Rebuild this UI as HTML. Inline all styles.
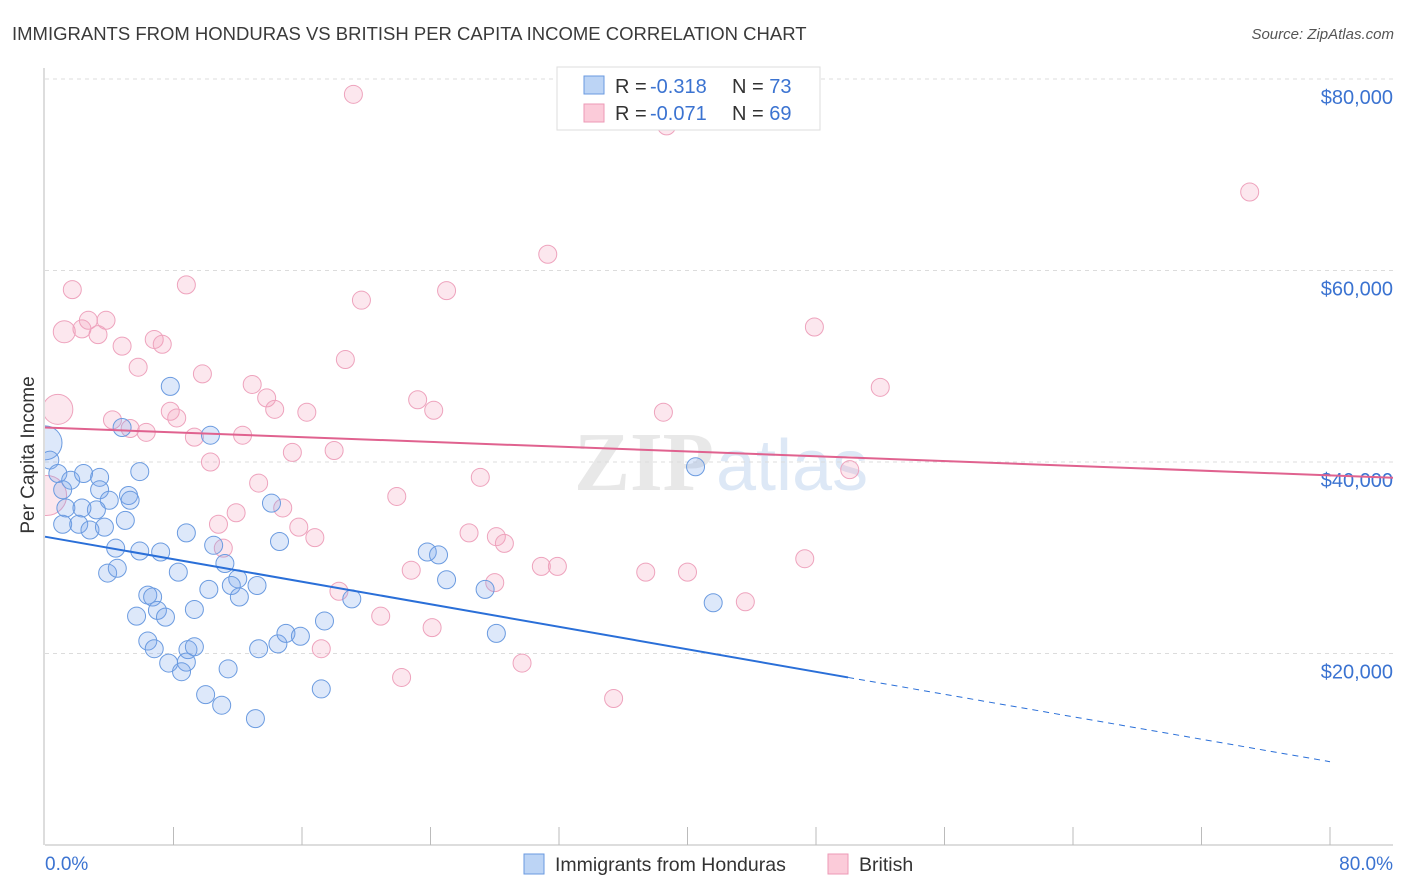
<!DOCTYPE html>
<html><head><meta charset="utf-8"><style>
body{margin:0;background:#fff;font-family:"Liberation Sans",sans-serif;}
svg{display:block}
</style></head><body>
<svg id="chart" width="1406" height="892">
<defs><clipPath id="plotclip"><rect x="45" y="60" width="1360" height="785"/></clipPath></defs>
<text x="12" y="40" font-size="18.5" fill="#3a3a3a">IMMIGRANTS FROM HONDURAS VS BRITISH PER CAPITA INCOME CORRELATION CHART</text>
<text x="1394" y="39" font-size="15" fill="#555" font-style="italic" text-anchor="end">Source: ZipAtlas.com</text>
<text x="714" y="490" font-size="84" fill="#e8e8e8" text-anchor="end" font-weight="bold" font-family="Liberation Serif,serif">ZIP</text>
<text x="716" y="490" font-size="72" fill="#dde8f6">atlas</text>
<g id="grid"></g>
<g id="axes"></g>
<g id="marks" clip-path="url(#plotclip)"></g>
<g id="trends"></g>
<text x="34" y="455" font-size="19" fill="#333" text-anchor="middle" transform="rotate(-90 34 455)">Per Capita Income</text>
<text x="45" y="870" font-size="19" fill="#3b73d1">0.0%</text>
<text x="1393" y="870" font-size="19" fill="#3b73d1" text-anchor="end">80.0%</text>
<g>
<rect x="557" y="67" width="263" height="63" fill="#fff" stroke="#ddd"/>
<rect x="584" y="76" width="20" height="18" fill="#bcd4f5" stroke="#6a9ae0"/>
<rect x="584" y="104" width="20" height="18" fill="#fbcbd9" stroke="#ec9ab6"/>
<text x="615" y="93" font-size="20" fill="#333">R = <tspan x="650" fill="#3b73d1">-0.318</tspan><tspan x="732">N = </tspan><tspan fill="#3b73d1">73</tspan></text>
<text x="615" y="120" font-size="20" fill="#333">R = <tspan x="650" fill="#3b73d1">-0.071</tspan><tspan x="732">N = </tspan><tspan fill="#3b73d1">69</tspan></text>
</g>
<g>
<rect x="524" y="854" width="20" height="20" fill="#bcd4f5" stroke="#6a9ae0"/>
<text x="555" y="871" font-size="19.5" fill="#333">Immigrants from Honduras</text></g>
<g>
<rect x="828" y="854" width="20" height="20" fill="#fbcbd9" stroke="#ec9ab6"/>
<text x="859" y="871" font-size="19.5" fill="#333">British</text></g>
</svg>
<script>
const yTicks=[20,40,60,80];
const yTickLabels=["$20,000","$40,000","$60,000","$80,000"];
const xTicks=[8,16,24,32,40,48,56,64,72,80];
const blueX=[0,0.3,0.8,1.1,1.6,2.4,3.4,4.8,7.8,10.3,5.9,5.2,3.4,4.0,3.2,5.0,1.3,2.3,1.1,2.1,2.8,3.7,5.3,7.2,5.9,4.4,3.9,4.5,6.4,6.7,8.3,8.8,10.5,11.2,12.0,11.6,12.1,13.2,14.1,14.6,10.2,9.3,7.0,5.7,7.5,6.4,6.8,8.9,9.3,8.8,7.7,8.5,11.4,10.0,11.0,13.1,13.3,14.5,15.0,15.9,17.4,17.2,19.1,23.8,24.5,25.0,27.4,28.1,40.5,41.6];
const blueY=[42.0,40.2,38.8,37.1,38.1,38.8,38.4,43.6,47.9,42.8,39.0,36.5,37.1,36.0,35.0,33.9,35.2,35.2,33.5,33.5,32.9,33.2,36.0,30.6,30.7,31.0,28.4,28.9,26.1,25.9,28.5,32.6,31.3,29.4,27.8,27.1,25.9,27.1,35.7,31.7,26.7,24.6,24.5,23.9,23.8,21.3,20.5,20.4,20.7,19.1,19.0,18.1,18.4,15.7,14.6,13.2,20.5,21.0,22.1,21.8,23.4,16.3,25.7,30.6,30.3,27.7,26.7,22.1,39.5,25.3];
const blueSize=[17,9,9,9,9,9,9,9,9,9,9,9,9,9,9,9,9,9,9,9,9,9,9,9,9,9,9,9,9,9,9,9,9,9,9,9,9,9,9,9,9,9,9,9,9,9,9,9,9,9,9,9,9,9,9,9,9,9,9,9,9,9,9,9,9,9,9,9,9,9];
const pinkX=[19.2,38.7,42.6,75.0,31.3,1.7,8.8,19.7,25.0,1.2,2.3,2.7,3.3,3.8,4.8,5.8,6.8,7.3,47.9,18.7,9.8,12.9,13.8,14.3,7.8,8.2,23.2,24.2,16.3,52.0,38.5,0.8,4.2,5.3,6.3,9.3,12.3,10.3,15.4,18.0,27.1,50.1,13.3,21.9,11.9,10.8,14.8,15.8,16.8,26.4,28.1,28.6,11.1,22.8,0.1,30.9,31.9,37.4,40.0,47.3,43.6,18.3,20.9,24.1,17.2,28.0,29.7,22.2,35.4];
const pinkY=[78.4,75.1,76.4,68.2,61.7,58.0,58.5,56.9,57.9,53.6,53.9,54.8,53.3,54.8,52.1,49.9,52.8,52.3,54.1,50.7,49.2,48.1,46.7,45.5,45.3,44.6,46.5,45.4,45.2,47.8,45.2,45.5,44.4,43.5,43.1,42.6,42.8,40.0,41.0,41.2,38.4,39.2,37.8,36.4,34.7,33.5,35.2,33.2,32.1,32.6,32.2,31.5,31.0,28.7,36.5,29.1,29.1,28.5,28.5,29.9,25.4,26.5,23.9,22.7,20.5,27.4,19.0,17.5,15.3];
const pinkSize=[9,9,9,9,9,9,9,9,9,11,9,9,9,9,9,9,9,9,9,9,9,9,9,9,9,9,9,9,9,9,9,15,9,9,9,9,9,9,9,9,9,9,9,9,9,9,9,9,9,9,9,9,9,9,20,9,9,9,9,9,9,9,9,9,9,9,9,9,9];
const blueTrend=[32.2,17.5,8.7];
const pinkTrend=[43.6,38.6];
const NS="http://www.w3.org/2000/svg";
function sx(v){return 45+v/80*1285;}
function sy(v){return 845-v*9.575;}
function mk(tag,attrs,parent){const e=document.createElementNS(NS,tag);for(const k in attrs)e.setAttribute(k,attrs[k]);parent.appendChild(e);return e;}
const grid=document.getElementById('grid'),axes=document.getElementById('axes'),marks=document.getElementById('marks'),trends=document.getElementById('trends');
yTicks.forEach((t,i)=>{
 const l=mk('line',{x1:45,x2:1393,y1:sy(t),y2:sy(t),stroke:'#dcdcdc','stroke-dasharray':'4,4'},grid);
 
 
 const tx=mk('text',{x:1393,y:sy(t)+25,'font-size':20,fill:'#3b73d1','text-anchor':'end'},grid);
 tx.textContent=yTickLabels[i];
 
 
});
const ya=mk('line',{x1:44,x2:44,y1:68,y2:845,stroke:'#bbb'},axes);


const xa=mk('line',{x1:45,x2:1393,y1:845,y2:845,stroke:'#bbb'},axes);


xTicks.forEach(t=>{
 const l=mk('line',{x1:sx(t),x2:sx(t),y1:827,y2:845,stroke:'#bbb'},axes);
 
 
});
function dots(X,Y,S,fill,stroke,name){
 X.forEach((x,i)=>{
  const c=mk('circle',{cx:sx(x),cy:sy(Y[i]),r:S[i],fill:fill,stroke:stroke,'stroke-width':1},marks);
  
  
 });
}
dots(pinkX,pinkY,pinkSize,'rgba(244,160,188,0.25)','#eea3bd','british-point');
dots(blueX,blueY,blueSize,'rgba(120,165,235,0.25)','#6b9be0','honduras-point');
const b1=mk('line',{x1:sx(0),y1:sy(blueTrend[0]),x2:sx(50),y2:sy(blueTrend[1]),stroke:'#2a6fd8','stroke-width':2},trends);


const b2=mk('line',{x1:sx(50),y1:sy(blueTrend[1]),x2:sx(80),y2:sy(blueTrend[2]),stroke:'#2a6fd8','stroke-width':1,'stroke-dasharray':'6,5'},trends);


const p1=mk('line',{x1:sx(0),y1:sy(pinkTrend[0]),x2:1393,y2:sy(pinkTrend[1]+(pinkTrend[1]-pinkTrend[0])*((1393-sx(80))/1285)),stroke:'#e0628f','stroke-width':2},trends);


</script>
</body></html>
